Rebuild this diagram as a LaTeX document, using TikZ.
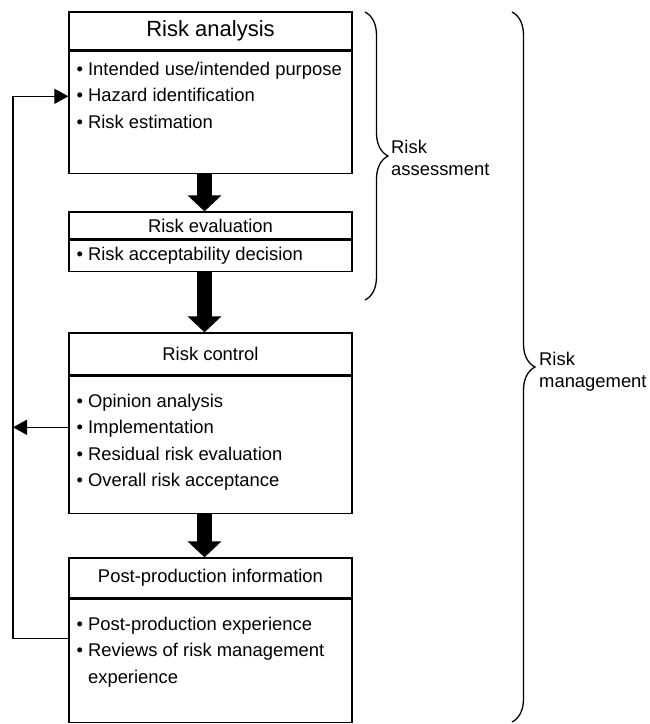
\documentclass[tikz,border=0pt]{standalone}
\usepackage{fontspec}
\setmainfont{Liberation Sans}
\usetikzlibrary{arrows.meta,positioning,decorations.pathreplacing}

\newcommand{\bul}{\textbullet\ }

\tikzset{
  box/.style={draw, line width=1.3pt, minimum width=283pt, inner sep=0pt},
  head/.style={box, font=\fontsize{18.4}{22}\selectfont},
  body/.style={box, anchor=north},
  items/.style={align=left, inner sep=0pt, font=\fontsize{18.4}{26.5}\selectfont},
  bigarrow/.style={line width=15pt, -{Triangle[width=33pt,length=16pt]}},
  feedback/.style={line width=1.3pt, -{Triangle[width=15pt,length=14pt]}},
  bracket/.style={decorate, line width=1.3pt, decoration={brace, amplitude=23pt}},
  bracelabel/.style={anchor=west, align=left, inner sep=0pt, font=\fontsize{18.4}{22}\selectfont}
}

\begin{document}
\begin{tikzpicture}[x=1pt,y=-1pt]
  \useasboundingbox (0,0) rectangle (650,724);

  % risk analysis
  \node[head, minimum height=38pt, font=\fontsize{22}{26}\selectfont] (ra) at (210.5,31) {Risk analysis};
  \node[body, minimum height=122pt] (rab) at (ra.south) {};
  \node[items, below right=11pt and 8pt of rab.north west] (rai) {\bul Intended use/intended purpose\\
    \bul Hazard identification\\ \bul Risk estimation};

  % risk evaluation
  \node[head, minimum height=27pt] (re) at (210.5,225.5) {Risk evaluation};
  \node[body, minimum height=31pt] (reb) at (re.south) {};
  \node[items, below right=7pt and 8pt of reb.north west] (rei) {\bul Risk acceptability decision};

  % risk control
  \node[head, minimum height=42pt] (rc) at (210.5,354) {Risk control};
  \node[body, minimum height=137pt] (rcb) at (rc.south) {};
  \node[items, below right=18pt and 8pt of rcb.north west] (rci) {\bul Opinion analysis\\
    \bul Implementation\\ \bul Residual risk evaluation\\ \bul Overall risk acceptance};

  % post-production information
  \node[head, minimum height=40pt] (pi) at (210.5,578) {Post-production information};
  \node[body, minimum height=123pt] (pib) at (pi.south) {};
  \node[items, below right=18pt and 8pt of pib.north west] (pii) {\bul Post-production experience\\
    \bul Reviews of risk management\\ \phantom{\bul}experience};

  % thick arrows between the stages
  \foreach \a/\b in {rab/re, reb/rc, rcb/pi}
    \draw[bigarrow] ([xshift=-6pt]\a.south) -- ([xshift=-6pt]\b.north);

  % feedback loop on the left
  \coordinate (loop) at (13,0);
  \path ([yshift=22.5pt]pib.west) coordinate (piout)
        ([yshift=16pt]rab.west) coordinate (rain)
        ([yshift=17.5pt]rcb.west) coordinate (rcout);
  \draw[feedback] (piout) -| (loop |- rain) -- (rain);
  \draw[feedback] (rcout) -- (rcout -| loop);

  % braces
  \draw[bracket] (365,12) -- (365,300);
  \node[bracelabel] (assess) at (391,158) {Risk\\assessment};
  \draw[bracket] (512,12) -- (512,722);
  \node[bracelabel] (manage) at (539,372) {Risk\\management};
\end{tikzpicture}
\end{document}
